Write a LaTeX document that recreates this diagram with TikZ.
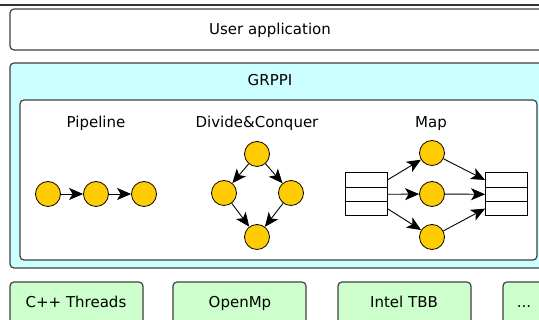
\documentclass[tikz,border=0pt]{standalone}
\usepackage{fontspec}
\setmainfont{DejaVu Sans}
\usetikzlibrary{arrows.meta}
\definecolor{grppicyan}{HTML}{CCFFFF}
\definecolor{backgreen}{HTML}{CCFFCC}
\definecolor{taskgold}{HTML}{FFCC00}

\begin{document}
\begin{tikzpicture}[x=1pt,y=1pt,
    layer/.style={draw=black!75, line width=1.2pt, rounded corners=4pt},
    label/.style={anchor=base},
    task/.style={circle, draw, fill=taskgold, minimum size=25pt, inner sep=0pt, line width=0.8pt},
    cell/.style={rectangle, draw, minimum width=42pt, minimum height=14.3pt, inner sep=0pt, line width=0.8pt},
    flow/.style={-{Stealth[length=14pt,width=12pt,inset=3.5pt]}, line width=0.9pt},
    font=\fontsize{15}{18}\selectfont]
    \useasboundingbox (0,0) rectangle (539,320);
    \clip (0,0) rectangle (539,320);
    % Top rule and layers
    \draw[line width=1.2pt, black!80] (0,315) -- (539,315);
    \draw[layer, fill=white] (10,311) rectangle (570,270);
    \node[label] (user) at (270,285) {User application};
    \draw[layer, fill=grppicyan] (10,257) rectangle (570,52);
    \node[label] (grppi) at (270,234) {GRPPI};
    \draw[layer, fill=white] (20,220) rectangle (537,60);
    % Patterns
    \node[label] (pipe) at (96,192) {Pipeline};
    \node[label] (dac) at (257,192) {Divide\&Conquer};
    \node[label] (map) at (431,192) {Map};
    % Pipeline
    \node[task] (p1) at (48,126) {};
    \node[task] (p2) at (96,126) {};
    \node[task] (p3) at (144,126) {};
    \draw[flow] (p1) -- (p2);
    \draw[flow] (p2) -- (p3);
    % Divide&Conquer
    \node[task] (d1) at (257,166) {};
    \node[task] (d2) at (224,127) {};
    \node[task] (d3) at (291,127) {};
    \node[task] (d4) at (257,83) {};
    \draw[flow] (d1) -- (d2);
    \draw[flow] (d1) -- (d3);
    \draw[flow] (d2) -- (d4);
    \draw[flow] (d3) -- (d4);
    % Map
    \node[cell] (in1) at (366,140) {};
    \node[cell] (in2) at (366,125.7) {};
    \node[cell] (in3) at (366,111.4) {};
    \node[cell] (out1) at (506.5,140) {};
    \node[cell] (out2) at (506.5,125.7) {};
    \node[cell] (out3) at (506.5,111.4) {};
    \node[task] (m1) at (432,167) {};
    \node[task] (m2) at (432,126) {};
    \node[task] (m3) at (432,83) {};
    \draw[flow] (in1.east) -- (m1);
    \draw[flow] (in2.east) -- (m2);
    \draw[flow] (in3.east) -- (m3);
    \draw[flow] (m1) -- (out1.west);
    \draw[flow] (m2) -- (out2.west);
    \draw[flow] (m3) -- (out3.west);
    % Back ends
    \draw[layer, fill=backgreen] (10,38) rectangle (143,-4);
    \node[label] (threads) at (76,12) {C++ Threads};
    \draw[layer, fill=backgreen] (173,38) rectangle (306,-4);
    \node[label] (openmp) at (240,12) {OpenMp};
    \draw[layer, fill=backgreen] (338,38) rectangle (471,-4);
    \node[label] (tbb) at (404,12) {Intel TBB};
    \draw[layer, fill=backgreen] (503,38) rectangle (636,-4);
    \node[label] (more) at (524,12) {...};
\end{tikzpicture}
\end{document}
